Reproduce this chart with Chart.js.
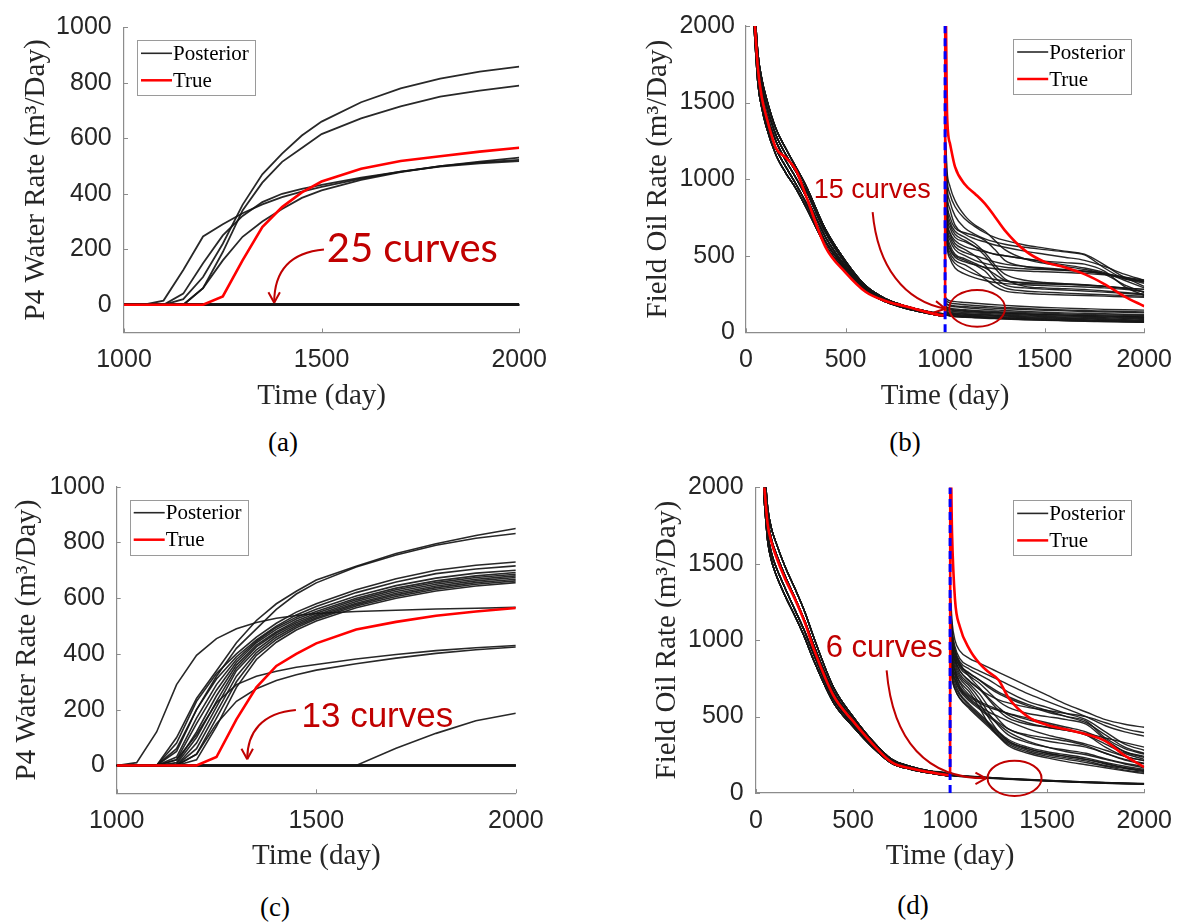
<!DOCTYPE html>
<html>
<head>
<meta charset="utf-8">
<script src="https://cdn.jsdelivr.net/npm/chart.js@4"></script>
<style>
  body { margin: 0; background: #fff; }
  #fig { position: relative; width: 1185px; height: 922px; overflow: hidden; background: #fff; }
  canvas { position: absolute; }
  .cap { position: absolute; font: 27px "Liberation Serif", "Times New Roman", serif; color: #000; transform: translate(-50%, -50%); }
</style>
</head>
<body>
<div id="fig">
  <canvas id="chartA" width="560" height="420" style="left:0;top:0"></canvas>
  <canvas id="chartB" width="585" height="420" style="left:600px;top:0"></canvas>
  <canvas id="chartC" width="560" height="420" style="left:0;top:460px"></canvas>
  <canvas id="chartD" width="585" height="420" style="left:600px;top:460px"></canvas>
  <div class="cap" style="left:283px;top:442px">(a)</div>
  <div class="cap" style="left:905px;top:442px">(b)</div>
  <div class="cap" style="left:275px;top:907px">(c)</div>
  <div class="cap" style="left:913px;top:905px">(d)</div>
</div>
<script>
// ---- tick labels ----
const WATER_X_TICKS = [1000, 1500, 2000];
const WATER_Y_TICKS = [0, 200, 400, 600, 800, 1000];
const OIL_X_TICKS = [0, 500, 1000, 1500, 2000];
const OIL_Y_TICKS = [0, 500, 1000, 1500, 2000];

// ---- (a) P4 water rate, 25 posterior curves stay at zero ----
const T_A = [1000, 1050, 1100, 1150, 1200, 1250, 1300, 1350, 1400, 1450, 1500, 1600, 1700, 1800, 1900, 2000];
const A_UP1 = [0, 0, 0, 20, 100, 220, 360, 470, 545, 610, 660, 730, 780, 815, 840, 858];
const A_UP2 = [0, 0, 0, 0, 60, 190, 340, 440, 515, 565, 615, 672, 715, 750, 772, 790];
const A_LOW1 = [0, 0, 15, 125, 246, 290, 330, 362, 388, 408, 425, 455, 480, 500, 513, 522];
const A_LOW2 = [0, 0, 0, 40, 150, 250, 320, 370, 400, 418, 432, 458, 480, 498, 510, 518];
const A_LOW3 = [0, 0, 0, 0, 60, 160, 245, 300, 345, 385, 412, 450, 478, 500, 516, 530];
const A_ZERO = [0, 0, 0, 0, 0, 0, 0, 0, 0, 0, 0, 0, 0, 0, 0, 0];
const A_ZERO_COUNT = 25;
const A_TRUE = [0, 0, 0, 0, 0, 30, 160, 280, 352, 405, 444, 490, 518, 535, 552, 566];

// ---- (c) P4 water rate, 13 posterior curves stay at zero ----
const T_C = [1000, 1050, 1100, 1150, 1200, 1250, 1300, 1350, 1400, 1450, 1500, 1600, 1700, 1800, 1900, 2000];
const C_TOP1 = [0, 0, 0, 100, 240, 340, 440, 520, 580, 625, 665, 715, 760, 795, 825, 850];
const C_TOP2 = [0, 0, 0, 60, 200, 320, 420, 490, 560, 615, 655, 712, 755, 790, 815, 832];
const C_M1 = [0, 0, 0, 80, 230, 330, 400, 460, 510, 550, 580, 630, 670, 700, 718, 730];
const C_M2 = [0, 0, 0, 50, 200, 310, 390, 450, 500, 540, 570, 620, 658, 688, 705, 716];
const C_M3 = [0, 0, 0, 30, 170, 290, 380, 445, 495, 532, 560, 608, 645, 672, 690, 700];
const C_M4 = [0, 0, 0, 20, 150, 270, 370, 440, 488, 525, 552, 600, 636, 662, 680, 692];
const C_M5 = [0, 0, 0, 10, 120, 250, 360, 432, 480, 518, 546, 594, 630, 656, 674, 686];
const C_M6 = [0, 0, 0, 5, 100, 230, 350, 425, 475, 512, 540, 588, 624, 650, 668, 680];
const C_M7 = [0, 0, 0, 0, 80, 210, 340, 415, 468, 506, 535, 582, 618, 644, 662, 674];
const C_M8 = [0, 0, 0, 0, 60, 190, 320, 405, 460, 500, 530, 577, 612, 638, 656, 668];
const C_M9 = [0, 0, 0, 0, 40, 170, 300, 395, 452, 494, 525, 572, 606, 632, 650, 662];
const C_M10 = [0, 0, 0, 0, 20, 140, 280, 380, 442, 486, 518, 566, 600, 626, 644, 656];
const C_EARLY = [0, 10, 120, 290, 395, 455, 490, 513, 528, 538, 545, 552, 557, 561, 564, 567];
const C_LOW1 = [0, 0, 0, 20, 110, 225, 290, 320, 338, 352, 362, 382, 398, 412, 422, 430];
const C_LOW2 = [0, 0, 0, 0, 40, 150, 230, 275, 305, 325, 342, 365, 385, 402, 415, 425];
const C_LATE = [0, 0, 0, 0, 0, 0, 0, 0, 0, 0, 0, 0, 62, 115, 160, 187];
const C_ZERO = [0, 0, 0, 0, 0, 0, 0, 0, 0, 0, 0, 0, 0, 0, 0, 0];
const C_ZERO_COUNT = 13;
const C_TRUE = [0, 0, 0, 0, 0, 30, 165, 280, 357, 400, 438, 488, 515, 537, 552, 565];

// ---- (b) and (d) field oil rate: history (to day 1000) + forecast ----
const HISTORY_END = 1000;
const T_PRE = [40, 60, 80, 100, 150, 200, 250, 300, 400, 500, 600, 700, 800, 900, 1000];
const T_POST = [1001, 1010, 1025, 1050, 1100, 1150, 1200, 1250, 1300, 1400, 1500, 1600, 1700, 1800, 1900, 2000];

const B_PRE1 = [2150, 1760, 1600, 1490, 1290, 1160, 1050, 930, 650, 450, 295, 215, 170, 136, 114];
const B_PRE2 = [2050, 1660, 1500, 1390, 1200, 1080, 970, 850, 590, 415, 280, 205, 160, 130, 109];
const B_PRE3 = [2200, 1820, 1650, 1540, 1330, 1200, 1080, 960, 670, 465, 305, 220, 172, 139, 116];
const B_PRE4 = [2000, 1620, 1460, 1350, 1160, 1040, 940, 820, 565, 400, 270, 200, 156, 127, 106];
const B_PRE5 = [2120, 1710, 1550, 1440, 1250, 1120, 1010, 890, 620, 430, 288, 210, 165, 133, 111];
const B_TRUE_PRE = [2100, 1720, 1530, 1420, 1205, 1140, 1060, 895, 555, 390, 265, 205, 170, 135, 110];
const B_TRUE_POST = [2300, 1420, 1230, 1080, 965, 905, 840, 755, 666, 535, 460, 425, 380, 315, 235, 170];

const B_H1 = [1250, 1000, 900, 820, 740, 690, 650, 620, 600, 570, 550, 530, 510, 440, 360, 330];
const B_H2 = [1200, 950, 850, 760, 680, 640, 610, 590, 575, 555, 540, 525, 505, 420, 350, 335];
const B_H3 = [1150, 900, 800, 700, 640, 610, 590, 570, 555, 530, 510, 490, 470, 430, 380, 340];
const B_H4 = [1100, 850, 750, 680, 650, 630, 600, 540, 470, 430, 415, 405, 395, 380, 355, 300];
const B_H5 = [1050, 820, 720, 660, 620, 580, 520, 440, 380, 340, 325, 318, 310, 300, 285, 265];
const B_H6 = [1000, 780, 700, 640, 600, 560, 500, 420, 350, 300, 290, 285, 280, 270, 260, 250];
const B_H7 = [1000, 760, 680, 620, 590, 560, 530, 510, 500, 480, 465, 455, 445, 400, 300, 240];
const B_H8 = [980, 740, 650, 600, 560, 540, 525, 510, 500, 480, 460, 440, 420, 390, 340, 290];
const B_H9 = [950, 720, 640, 580, 540, 500, 440, 360, 310, 290, 282, 276, 270, 262, 255, 245];
const B_H10 = [950, 700, 620, 560, 520, 500, 480, 460, 445, 430, 420, 410, 400, 380, 350, 320];
const B_H11 = [900, 680, 600, 540, 500, 470, 450, 435, 425, 415, 410, 405, 398, 385, 360, 330];
const B_H12 = [900, 660, 570, 510, 480, 450, 420, 380, 340, 320, 315, 312, 308, 300, 290, 280];
const B_H13 = [880, 640, 550, 500, 470, 440, 400, 330, 290, 270, 262, 256, 250, 245, 240, 235];
const B_H14 = [850, 620, 540, 490, 460, 440, 425, 415, 408, 400, 395, 390, 385, 375, 360, 340];
const B_H15 = [850, 600, 520, 470, 440, 400, 350, 300, 270, 255, 248, 244, 240, 236, 232, 228];
const B_H16 = [1280, 1050, 950, 860, 760, 700, 660, 600, 540, 480, 450, 430, 410, 380, 310, 260];
const B_H17 = [820, 580, 500, 450, 410, 380, 360, 345, 335, 325, 320, 315, 310, 300, 290, 280];
const B_H18 = [800, 560, 480, 420, 380, 355, 338, 325, 318, 310, 305, 300, 296, 290, 280, 265];
// the 15 curves that stay low after day 1000
const B_L1 = [230, 215, 205, 200, 195, 190, 185, 180, 176, 168, 162, 158, 154, 150, 147, 145];
const B_L2 = [210, 200, 192, 186, 180, 175, 170, 166, 162, 155, 150, 146, 142, 139, 136, 133];
const B_L3 = [190, 180, 172, 166, 160, 155, 150, 146, 142, 136, 131, 127, 124, 121, 118, 115];
const B_L4 = [175, 165, 158, 152, 147, 143, 139, 136, 133, 128, 124, 120, 117, 114, 111, 108];
const B_L5 = [160, 152, 146, 141, 137, 133, 130, 127, 124, 119, 115, 112, 109, 106, 103, 100];
const B_L6 = [150, 143, 138, 134, 130, 126, 123, 120, 117, 113, 109, 106, 103, 100, 97, 95];
const B_L7 = [140, 135, 130, 126, 122, 119, 116, 113, 111, 107, 104, 101, 98, 95, 92, 90];
const B_L8 = [135, 130, 125, 121, 118, 115, 112, 109, 106, 102, 98, 95, 92, 89, 87, 85];
const B_L9 = [130, 125, 120, 116, 113, 110, 107, 104, 101, 97, 93, 90, 87, 84, 82, 80];
const B_L10 = [125, 120, 116, 112, 108, 105, 102, 99, 96, 92, 88, 85, 82, 79, 77, 75];
const B_L11 = [120, 115, 111, 107, 104, 101, 98, 95, 92, 88, 84, 81, 78, 75, 73, 71];
const B_L12 = [118, 112, 108, 104, 100, 97, 94, 91, 88, 84, 80, 77, 74, 71, 69, 67];
const B_L13 = [200, 185, 178, 172, 168, 164, 160, 157, 154, 148, 144, 140, 136, 133, 130, 127];
const B_L14 = [170, 160, 152, 146, 141, 137, 133, 129, 126, 121, 117, 113, 110, 107, 104, 101];
const B_L15 = [115, 110, 106, 102, 98, 95, 92, 89, 86, 82, 78, 75, 72, 70, 67, 65];

const D_PRE1 = [2100, 1800, 1660, 1580, 1420, 1280, 1130, 960, 660, 480, 330, 215, 168, 140, 121];
const D_PRE2 = [2000, 1700, 1570, 1490, 1340, 1200, 1060, 900, 615, 450, 310, 200, 158, 133, 114];
const D_PRE3 = [2200, 1870, 1730, 1650, 1480, 1340, 1190, 1010, 690, 500, 342, 220, 172, 142, 122];
const D_PRE4 = [1950, 1650, 1520, 1440, 1290, 1160, 1020, 860, 590, 435, 300, 193, 154, 130, 112];
const D_TRUE_PRE = [2050, 1760, 1640, 1560, 1400, 1270, 1120, 935, 635, 470, 322, 200, 160, 135, 117];
const D_TRUE_POST = [2300, 1700, 1270, 1090, 940, 850, 790, 740, 625, 500, 445, 415, 385, 340, 245, 170];

const D_H1 = [1300, 1120, 1000, 930, 880, 850, 820, 790, 760, 700, 640, 580, 530, 480, 450, 430];
const D_H2 = [1280, 1080, 960, 880, 830, 800, 770, 740, 710, 650, 600, 550, 500, 440, 400, 372];
const D_H3 = [1250, 1050, 940, 860, 810, 775, 740, 700, 660, 600, 560, 520, 480, 400, 320, 280];
const D_H4 = [1220, 1020, 920, 840, 785, 740, 690, 650, 620, 570, 530, 500, 470, 360, 290, 255];
const D_H5 = [1200, 1000, 900, 820, 765, 720, 660, 600, 560, 520, 500, 480, 450, 350, 270, 233];
const D_H6 = [1180, 980, 880, 800, 735, 680, 610, 540, 490, 450, 430, 410, 380, 300, 240, 212];
const D_H7 = [1150, 960, 860, 780, 715, 650, 560, 480, 420, 380, 360, 340, 310, 260, 215, 191];
const D_H8 = [1120, 940, 840, 765, 700, 620, 520, 440, 380, 330, 300, 280, 260, 225, 195, 174];
const D_H9 = [1100, 920, 820, 750, 680, 590, 490, 400, 340, 290, 260, 240, 220, 195, 165, 149];
const D_H10 = [1080, 900, 800, 730, 660, 560, 450, 370, 310, 260, 230, 205, 185, 165, 145, 127];
const D_H11 = [1100, 880, 800, 720, 640, 600, 570, 545, 520, 480, 450, 420, 380, 320, 260, 220];
const D_H12 = [1100, 860, 780, 700, 630, 590, 560, 540, 520, 490, 460, 430, 400, 340, 270, 240];
const D_H13 = [1050, 850, 770, 690, 620, 570, 530, 500, 470, 420, 380, 350, 320, 280, 240, 210];
const D_H14 = [1000, 830, 750, 680, 610, 560, 510, 460, 420, 370, 340, 320, 300, 260, 220, 195];
const D_H15 = [1000, 820, 740, 670, 600, 550, 500, 450, 400, 340, 300, 270, 250, 220, 190, 165];
const D_H16 = [950, 800, 720, 650, 580, 520, 460, 400, 350, 300, 270, 250, 230, 200, 175, 155];
const D_H17 = [950, 780, 700, 640, 570, 510, 450, 390, 340, 290, 260, 240, 220, 190, 165, 145];
const D_H18 = [900, 760, 680, 620, 560, 500, 440, 380, 330, 280, 250, 230, 210, 180, 160, 140];
const D_H19 = [1250, 1000, 900, 830, 780, 740, 700, 660, 630, 580, 540, 500, 460, 380, 300, 260];
const D_H20 = [1150, 950, 870, 800, 730, 680, 640, 610, 590, 560, 540, 520, 500, 460, 420, 395];
const D_H21 = [1260, 1050, 930, 850, 760, 690, 620, 560, 510, 460, 430, 410, 390, 360, 330, 300];
const D_H22 = [900, 750, 680, 620, 550, 490, 430, 370, 320, 270, 240, 220, 200, 175, 150, 135];
// the 6 curves that keep the history decline
const D_L1 = [120, 118, 116, 114, 110, 106, 102, 98, 95, 89, 83, 78, 73, 69, 65, 62];
const D_L2 = [118, 116, 114, 112, 108, 104, 100, 96, 93, 87, 81, 76, 71, 67, 63, 60];
const D_L3 = [116, 114, 112, 110, 106, 102, 98, 95, 91, 85, 79, 74, 69, 65, 61, 58];
const D_L4 = [114, 112, 110, 108, 104, 100, 97, 93, 90, 84, 78, 73, 68, 64, 60, 57];
const D_L5 = [119, 117, 115, 113, 109, 105, 101, 97, 94, 88, 82, 77, 72, 68, 64, 61];
const D_L6 = [117, 115, 113, 111, 107, 103, 99, 96, 92, 86, 80, 75, 70, 66, 62, 59];

// ---- styling ----
const SERIF = '"Liberation Serif", "Times New Roman", serif';
const SANS = '"Liberation Sans", Arial, sans-serif';
const AXIS_GREY = '#8c8c8c';
const TEXT_GREY = '#262626';
const POST_BLACK = 'rgba(22,22,22,0.92)';
const TRUE_RED = '#ff0000';
const NOTE_RED = '#c00000';

Chart.defaults.font.family = SANS;
Chart.defaults.animation = false;

function series(label, times, values, color, width, smooth) {
    return {
        label: label,
        data: times.map((t, i) => ({ x: t, y: values[i] })),
        borderColor: color,
        borderWidth: width,
        pointRadius: 0,
        fill: false,
        tension: 0,
        cubicInterpolationMode: smooth ? 'monotone' : 'default'
    };
}

// MATLAB style ticks pointing into the axes
const innerTicks = {
    id: 'innerTicks',
    beforeDatasetsDraw(chart) {
        const { ctx, chartArea: a, scales: { x, y } } = chart;
        ctx.save();
        ctx.strokeStyle = AXIS_GREY;
        ctx.lineWidth = 1;
        ctx.beginPath();
        x.ticks.forEach(t => {
            const px = Math.round(x.getPixelForValue(t.value)) + 0.5;
            ctx.moveTo(px, a.bottom);
            ctx.lineTo(px, a.bottom - 4);
        });
        y.ticks.forEach(t => {
            const py = Math.round(y.getPixelForValue(t.value)) + 0.5;
            ctx.moveTo(a.left, py);
            ctx.lineTo(a.left + 4, py);
        });
        ctx.stroke();
        ctx.restore();
    }
};

// boxed legend inside the axes
const boxLegend = {
    id: 'boxLegend',
    afterDraw(chart, args, opts) {
        const { ctx, chartArea: a } = chart;
        const w = 118, h = 55;
        const left = opts.side === 'right' ? a.right - 13 - w : a.left + 13;
        const top = a.top + 13;
        ctx.save();
        ctx.fillStyle = '#fff';
        ctx.fillRect(left, top, w, h);
        ctx.strokeStyle = '#9a9a9a';
        ctx.lineWidth = 1;
        ctx.strokeRect(Math.round(left) + 0.5, Math.round(top) + 0.5, w, h);
        ctx.font = '21px ' + SERIF;
        ctx.textBaseline = 'middle';
        ctx.textAlign = 'left';
        opts.items.forEach((label, i) => {
            const ds = chart.data.datasets.find(d => d.label === label);
            const yy = top + 13 + i * 27;
            ctx.strokeStyle = ds.borderColor;
            ctx.lineWidth = label === 'True' ? 2.5 : 1.6;
            ctx.beginPath();
            ctx.moveTo(left + 4, yy);
            ctx.lineTo(left + 35, yy);
            ctx.stroke();
            ctx.fillStyle = '#000';
            ctx.fillText(label, left + 36, yy + 1);
        });
        ctx.restore();
    }
};

// red call-outs (text, curved arrow, ellipse) placed in data units
const callouts = {
    id: 'callouts',
    afterDatasetsDraw(chart, args, opts) {
        if (!opts.text) return;
        const { ctx, scales: { x, y } } = chart;
        const P = p => [x.getPixelForValue(p[0]), y.getPixelForValue(p[1])];
        ctx.save();
        ctx.strokeStyle = NOTE_RED;
        ctx.fillStyle = NOTE_RED;
        ctx.lineWidth = 2;
        ctx.font = opts.font;
        ctx.textAlign = 'left';
        ctx.textBaseline = 'alphabetic';
        const tp = P(opts.at);
        ctx.fillText(opts.text, tp[0], tp[1]);

        const pts = opts.arrow.map(P);
        ctx.beginPath();
        ctx.moveTo(pts[0][0], pts[0][1]);
        ctx.bezierCurveTo(pts[1][0], pts[1][1], pts[2][0], pts[2][1], pts[3][0], pts[3][1]);
        ctx.stroke();
        const ang = Math.atan2(pts[3][1] - pts[2][1], pts[3][0] - pts[2][0]);
        ctx.beginPath();
        [ang + Math.PI - 0.5, ang + Math.PI + 0.5].forEach(a2 => {
            ctx.moveTo(pts[3][0], pts[3][1]);
            ctx.lineTo(pts[3][0] + 12 * Math.cos(a2), pts[3][1] + 12 * Math.sin(a2));
        });
        ctx.stroke();

        if (opts.ellipse) {
            const c = P(opts.ellipse.center);
            const rx = x.getPixelForValue(opts.ellipse.center[0] + opts.ellipse.radius[0]) - c[0];
            const ry = c[1] - y.getPixelForValue(opts.ellipse.center[1] + opts.ellipse.radius[1]);
            ctx.beginPath();
            ctx.ellipse(c[0], c[1], rx, ry, 0, 0, Math.PI * 2);
            ctx.stroke();
        }
        ctx.restore();
    }
};

function makeChart(id, g) {
    return new Chart(document.getElementById(id), {
        type: 'line',
        data: { datasets: g.datasets },
        options: {
            responsive: false,
            animation: false,
            devicePixelRatio: 1,
            layout: { padding: g.padding },
            plugins: {
                legend: { display: false },
                tooltip: { enabled: false },
                boxLegend: { side: g.legendSide, items: ['Posterior', 'True'] },
                callouts: g.notes
            },
            scales: {
                x: {
                    type: 'linear',
                    min: g.xMin,
                    max: g.xMax,
                    afterBuildTicks: s => { s.ticks = g.xTicks.map(v => ({ value: v })); },
                    afterFit: s => { s.height = g.xHeight; },
                    grid: { drawOnChartArea: false, drawTicks: false },
                    border: { color: AXIS_GREY, width: 1.2 },
                    ticks: { padding: 13, color: TEXT_GREY, font: { size: 25 }, maxRotation: 0, callback: v => String(v) },
                    title: {
                        display: true, text: 'Time (day)', color: TEXT_GREY,
                        font: { family: SERIF, size: 29 },
                        padding: { top: 0, bottom: g.xTitlePad }
                    }
                },
                y: {
                    type: 'linear',
                    min: g.yMin,
                    max: g.yMax,
                    afterBuildTicks: s => { s.ticks = g.yTicks.map(v => ({ value: v })); },
                    afterFit: s => { s.width = g.yWidth; },
                    grid: { drawOnChartArea: false, drawTicks: false },
                    border: { color: AXIS_GREY, width: 1.2 },
                    ticks: { padding: g.yTickPad, color: TEXT_GREY, font: { size: 25 }, callback: v => String(v) },
                    title: {
                        display: true, text: g.yTitle, color: TEXT_GREY,
                        font: { family: SERIF, size: 29 },
                        padding: { top: g.yTitlePad, bottom: 0 }
                    }
                }
            }
        },
        plugins: [innerTicks, callouts, boxLegend]
    });
}

// ---- (a) ----
const aSets = [series('True', T_A, A_TRUE, TRUE_RED, 2.6, false)];
[A_UP1, A_UP2, A_LOW1, A_LOW2, A_LOW3].forEach(v => aSets.push(series('Posterior', T_A, v, POST_BLACK, 1.8, false)));
for (let i = 0; i < A_ZERO_COUNT; i++) aSets.push(series('Posterior', T_A, A_ZERO, POST_BLACK, 1.8, false));

makeChart('chartA', {
    datasets: aSets,
    xMin: 1000, xMax: 2000, yMin: -100, yMax: 1000,
    xTicks: WATER_X_TICKS, yTicks: WATER_Y_TICKS,
    yTitle: 'P4 Water Rate (m³/Day)',
    padding: { left: 0, top: 17.5, right: 38.3, bottom: 0 },
    yWidth: 124, xHeight: 87.5, yTickPad: 12.3, yTitlePad: 18.6, xTitlePad: 6.6,
    legendSide: 'left',
    notes: {
        text: '25 curves', font: '40px Lato, ' + SANS, at: [1513, 154],
        arrow: [[1506, 199], [1418, 188], [1380, 119], [1380, 7]]
    }
});

// ---- (c) ----
const cSets = [series('True', T_C, C_TRUE, TRUE_RED, 2.6, false)];
[C_TOP1, C_TOP2, C_M1, C_M2, C_M3, C_M4, C_M5, C_M6, C_M7, C_M8, C_M9, C_M10,
 C_EARLY, C_LOW1, C_LOW2, C_LATE].forEach(v => cSets.push(series('Posterior', T_C, v, POST_BLACK, 1.6, false)));
for (let i = 0; i < C_ZERO_COUNT; i++) cSets.push(series('Posterior', T_C, C_ZERO, POST_BLACK, 1.6, false));

makeChart('chartC', {
    datasets: cSets,
    xMin: 1000, xMax: 2000, yMin: -100, yMax: 1000,
    xTicks: WATER_X_TICKS, yTicks: WATER_Y_TICKS,
    yTitle: 'P4 Water Rate (m³/Day)',
    padding: { left: 0, top: 16.7, right: 44.2, bottom: 0 },
    yWidth: 116.7, xHeight: 86.7, yTickPad: 11.7, yTitlePad: 9.6, xTitlePad: 5.9,
    legendSide: 'left',
    notes: {
        text: '13 curves', font: '35px ' + SANS, at: [1463, 137],
        arrow: [[1449, 199], [1364, 189], [1327, 119], [1327, 22]]
    }
});

// ---- (b) ----
const T_OIL = T_PRE.concat(T_POST);
const historyLine = { x: [HISTORY_END, HISTORY_END], y: [0, 2000] };

function oilSets(truePre, truePost, pres, posts) {
    const sets = [];
    const dash = series('History end', historyLine.x, historyLine.y, '#0000ff', 3, false);
    dash.borderDash = [8, 5];
    sets.push(dash);
    sets.push(series('True', T_OIL, truePre.concat(truePost), TRUE_RED, 2.6, true));
    posts.forEach((post, i) => sets.push(series('Posterior', T_OIL, pres[i % pres.length].concat(post), POST_BLACK, 1.4, true)));
    return sets;
}

makeChart('chartB', {
    datasets: oilSets(B_TRUE_PRE, B_TRUE_POST,
        [B_PRE1, B_PRE2, B_PRE3, B_PRE4, B_PRE5],
        [B_H1, B_H2, B_H3, B_H4, B_H5, B_H6, B_H7, B_H8, B_H9, B_H10, B_H11, B_H12, B_H13, B_H14, B_H15, B_H16, B_H17, B_H18,
         B_L1, B_L2, B_L3, B_L4, B_L5, B_L6, B_L7, B_L8, B_L9, B_L10, B_L11, B_L12, B_L13, B_L14, B_L15]),
    xMin: 0, xMax: 2000, yMin: 0, yMax: 2000,
    xTicks: OIL_X_TICKS, yTicks: OIL_Y_TICKS,
    yTitle: 'Field Oil Rate (m³/Day)',
    padding: { left: 0, top: 16, right: 39.4, bottom: 0 },
    yWidth: 146, xHeight: 87.7, yTickPad: 11, yTitlePad: 41.1, xTitlePad: 5.9,
    legendSide: 'right',
    notes: {
        text: '15 curves', font: '27px ' + SANS, at: [340, 880],
        arrow: [[636, 785], [661, 425], [796, 204], [1001, 154]],
        ellipse: { center: [1161, 157], radius: [140, 120] }
    }
});

// ---- (d) ----
makeChart('chartD', {
    datasets: oilSets(D_TRUE_PRE, D_TRUE_POST,
        [D_PRE1, D_PRE2, D_PRE3, D_PRE4],
        [D_H1, D_H2, D_H3, D_H4, D_H5, D_H6, D_H7, D_H8, D_H9, D_H10, D_H11, D_H12, D_H13, D_H14, D_H15, D_H16,
         D_H17, D_H18, D_H19, D_H20, D_H21, D_H22, D_L1, D_L2, D_L3, D_L4, D_L5, D_L6]),
    xMin: 0, xMax: 2000, yMin: 0, yMax: 2000,
    xTicks: OIL_X_TICKS, yTicks: OIL_Y_TICKS,
    yTitle: 'Field Oil Rate (m³/Day)',
    padding: { left: 0, top: 19.3, right: 34, bottom: 0 },
    yWidth: 156, xHeight: 87, yTickPad: 12.4, yTitlePad: 49.6, xTitlePad: 5.9,
    legendSide: 'right',
    notes: {
        text: '6 curves', font: '31px ' + SANS, at: [359, 892],
        arrow: [[673, 803], [704, 338], [881, 96], [1185, 96]],
        ellipse: { center: [1332, 96], radius: [139, 115] }
    }
});
</script>
</body>
</html>
